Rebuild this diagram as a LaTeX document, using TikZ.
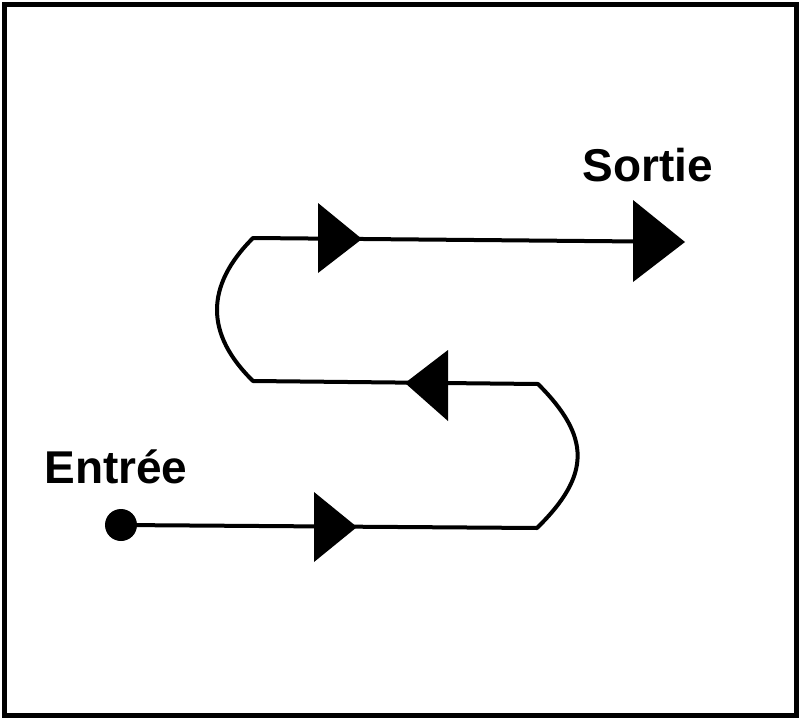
\documentclass[tikz,border=0pt]{standalone}
\usepackage{fontspec}
\setmainfont{Liberation Sans}
\begin{document}
\begin{tikzpicture}[x=1pt,y=-1pt,
  pathline/.style={line width=4pt,line join=round},
  tri/.style={fill=black},
  lbl/.style={font=\fontsize{46}{46}\selectfont\bfseries,inner sep=0pt,anchor=base}]
\useasboundingbox (0,0) rectangle (801,720);
\draw[line width=5pt] (4,4) rectangle (796,715.5);
% coordinates
\coordinate (start) at (121,525);
\coordinate (b1) at (537,528);
\coordinate (m1) at (538,384);
\coordinate (m2) at (253,381);
\coordinate (t1) at (253,238);
\coordinate (t2) at (640,241.5);
\coordinate (endtip) at (685,242);
% path
\draw[pathline] (start) -- (b1)
  .. controls (591,475) and (591,437) .. (m1) -- (m2)
  .. controls (205,334) and (205,286) .. (t1) -- (t2);
% start dot
\fill (start) circle (16);
% arrowheads
\fill[tri] (314,492) -- (357,527) -- (314,562) -- cycle;
\fill[tri] (448,350) -- (405,383) -- (448,421) -- cycle;
\fill[tri] (318,203) -- (362,239) -- (318,273) -- cycle;
\fill[tri] (633,200) -- (endtip) -- (633,282) -- cycle;
% labels
\node[lbl] (entree) at (116,483) {Entrée};
\node[lbl] (sortie) at (648,181) {Sortie};
\end{tikzpicture}
\end{document}
